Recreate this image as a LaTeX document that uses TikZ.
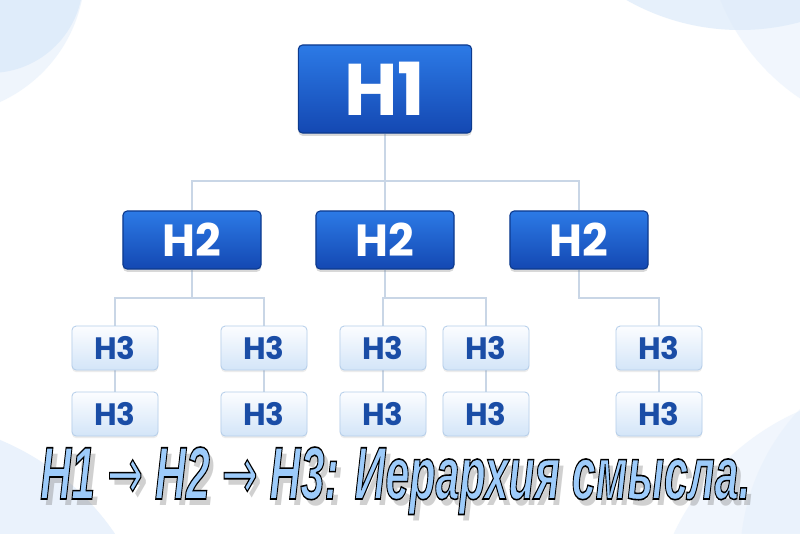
\documentclass[tikz,border=0pt]{standalone}
\usepackage{fontspec}
\usepackage{graphicx}
\usetikzlibrary{backgrounds,shadows}
\newfontfamily\boxfont{Poppins}
\newfontfamily\titlefont{Liberation Sans}
\newfontfamily\arrowfont{DejaVu Sans}
\definecolor{htop}{HTML}{2C7AE6}
\definecolor{hbot}{HTML}{1448B2}
\definecolor{hedge}{HTML}{0D3A8E}
\definecolor{lowtop}{HTML}{FCFDFF}
\definecolor{lowbot}{HTML}{D3E5F8}
\definecolor{lowedge}{HTML}{B5CEEA}
\definecolor{lowtext}{HTML}{1A4DA6}
\definecolor{linkcol}{HTML}{C9D6E6}
\definecolor{titlefill}{HTML}{9DCBFA}
\definecolor{bgblue}{HTML}{DCEAFA}
\newcommand{\titleline}{H1 {\arrowfont\mdseries\upshape →} H2 {\arrowfont\mdseries\upshape →} H3: Иерархия смысла.}
\newcommand{\outlined}[1]{\special{pdf:literal direct 0 0 0 RG 2 Tr 1.1 w}#1\special{pdf:literal direct 0 Tr}}
\newcommand{\titlebox}[1]{\resizebox{505pt}{37pt}{\titlefont\bfseries\itshape\fontsize{52}{52}\selectfont#1}}

\begin{document}
\begin{tikzpicture}[x=0.025cm,y=-0.025cm]
        %
        % `h1box' and `h2box' are the dark blue headings.
        % `h3box' is used for the light sub-headings.
        % `link' is used for the tree lines.
        \tikzstyle{h1box} = [draw=hedge,line width=0.8pt,rounded corners=3pt,top color=htop,bottom color=hbot,text=white,inner sep=0pt,drop shadow={opacity=0.3,shadow xshift=0pt,shadow yshift=-2pt}]
        \tikzstyle{h2box} = [h1box]
        \tikzstyle{h3box} = [draw=lowedge,line width=0.6pt,rounded corners=3pt,top color=lowtop,bottom color=lowbot,text=lowtext,inner sep=0pt,minimum width=2.15cm,minimum height=1.1cm,font=\boxfont\bfseries\fontsize{22}{22}\selectfont,drop shadow={opacity=0.15,shadow xshift=0pt,shadow yshift=-1.5pt}]
        \tikzstyle{link} = [draw=linkcol,line width=2pt]
        \useasboundingbox (0,0) rectangle (800,533);
        %
        % Level 1
        \node[h1box,minimum width=4.33cm,minimum height=2.2cm,font=\boxfont\bfseries\fontsize{52}{52}\selectfont] (h1) at (385,89) {H1};
        %
        % Level 2
        \node[h2box,minimum width=3.45cm,minimum height=1.45cm,font=\boxfont\bfseries\fontsize{32}{32}\selectfont] (h2a) at (192,240) {H2};
        \node[h2box,minimum width=3.45cm,minimum height=1.45cm,font=\boxfont\bfseries\fontsize{32}{32}\selectfont] (h2b) at (385,240) {H2};
        \node[h2box,minimum width=3.45cm,minimum height=1.45cm,font=\boxfont\bfseries\fontsize{32}{32}\selectfont] (h2c) at (579,240) {H2};
        %
        % Level 3, first row
        \node[h3box] (h3a1) at (115,348) {H3};
        \node[h3box] (h3b1) at (264,348) {H3};
        \node[h3box] (h3c1) at (383,348) {H3};
        \node[h3box] (h3d1) at (486,348) {H3};
        \node[h3box] (h3e1) at (659,348) {H3};
        %
        % Level 3, second row
        \node[h3box] (h3a2) at (115,414) {H3};
        \node[h3box] (h3b2) at (264,414) {H3};
        \node[h3box] (h3c2) at (383,414) {H3};
        \node[h3box] (h3d2) at (486,414) {H3};
        \node[h3box] (h3e2) at (659,414) {H3};
        %
        % Junctions
        \coordinate (j1) at (385,181);
        \coordinate (j2) at (192,298);
        \coordinate (j3) at (385,298);
        \coordinate (j4) at (659,298);
        %
        % Caption with shadow
        \node[anchor=base west,inner sep=0pt,opacity=0.3] (shadow) at (45,505) {\titlebox{\color{black!60}\titleline}};
        \node[anchor=base west,inner sep=0pt] (title) at (40,499) {\titlebox{\color{titlefill}\outlined{\titleline}}};
        %
        % Background and lines
        \begin{pgfonlayer}{background}
        \fill[white] (0,0) rectangle (800,533);
        \begin{scope}
        \clip (0,0) rectangle (800,533);
        \fill[bgblue,opacity=0.45] (-60,-30) circle (145);
        \fill[bgblue,opacity=0.8] (-10,-20) circle (93);
        \fill[bgblue,opacity=0.7] (740,-200) circle (230);
        \fill[bgblue,opacity=0.4] (920,-80) circle (215);
        \fill[bgblue,opacity=0.6] (-100,680) circle (260);
        \fill[bgblue,opacity=0.4] (900,640) circle (250);
        \fill[bgblue,opacity=0.3] (960,560) circle (220);
        \end{scope}
        \draw[link] (h1) -- (j1);
        \draw[link] (h2a) |- (j1) -| (h2c);
        \draw[link] (h2b) -- (j1);
        \draw[link] (h2a) -- (j2);
        \draw[link] (h3a1) |- (j2) -| (h3b1);
        \draw[link] (h2b) -- (j3);
        \draw[link] (h3c1) |- (j3) -| (h3d1);
        \draw[link] (h2c) |- (j4) -- (h3e1);
        \draw[link] (h3a1) -- (h3a2);
        \draw[link] (h3b1) -- (h3b2);
        \draw[link] (h3c1) -- (h3c2);
        \draw[link] (h3d1) -- (h3d2);
        \draw[link] (h3e1) -- (h3e2);
        \end{pgfonlayer}
        %
\end{tikzpicture}
\end{document}
